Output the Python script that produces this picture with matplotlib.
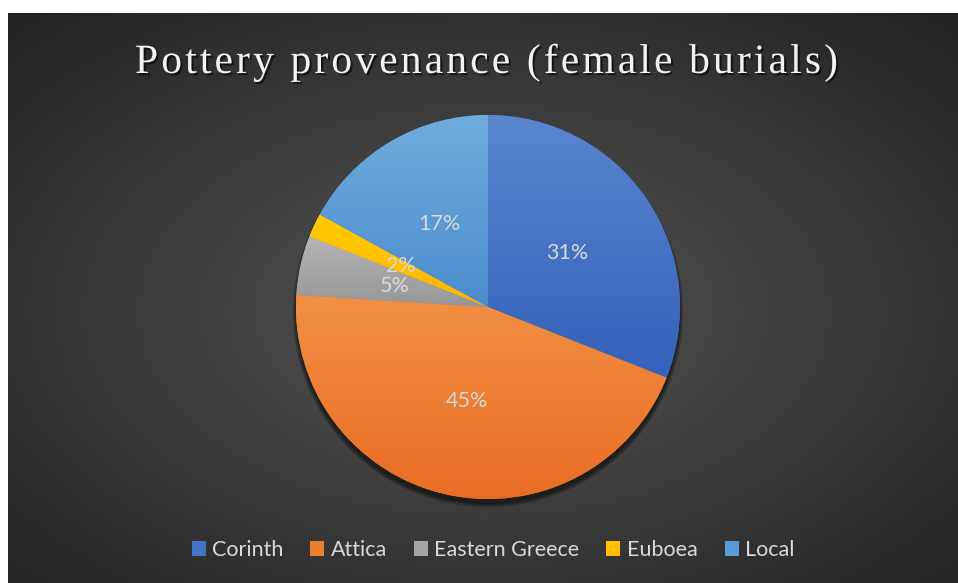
import numpy as np
import matplotlib
matplotlib.use("Agg")
import matplotlib.pyplot as plt
import matplotlib.patheffects as pe
from matplotlib.colors import to_rgb
from matplotlib.patches import Patch, Circle
from matplotlib.font_manager import FontProperties, findfont, get_font

# Pottery provenance shares (female burials), percent
labels = ["Corinth", "Attica", "Eastern Greece", "Euboea", "Local"]
shares = [31, 45, 5, 2, 17]
colors = ["#4472C4", "#ED7D31", "#A5A5A5", "#FFC000", "#5B9BD5"]

TITLE = "Pottery provenance (female burials)"
TEXT_COLOR = "#D9D9D9"

W, H = 958, 583
fig = plt.figure(figsize=(W / 100, H / 100), dpi=100)
fig.patch.set_facecolor("white")

# --- dark radial background, leaving a thin white strip top/left ---
left, top = 8 / W, 13 / H
bg_ax = fig.add_axes([left, 0, 1 - left, 1 - top])
bg_ax.set_axis_off()
yy, xx = np.mgrid[0:300, 0:500]
cx, cy = 0.50 * 500, 0.52 * 300
r = np.sqrt(((xx - cx) / 500) ** 2 + ((yy - cy) / 300) ** 2) / 0.72
r = np.clip(r, 0, 1)
inner, outer = np.array(to_rgb("#555555")), np.array(to_rgb("#222222"))
bg = inner[None, None, :] * (1 - r[..., None]) + outer[None, None, :] * r[..., None]
bg_ax.imshow(bg, extent=[0, 1, 0, 1], aspect="auto", interpolation="bilinear")
bg_ax.set_xlim(0, 1)
bg_ax.set_ylim(0, 1)

# --- pie ---
R_PX = 192
ax = fig.add_axes([(488 - R_PX) / W, (H - 307 - R_PX) / H, 2 * R_PX / W, 2 * R_PX / H])
ax.set_facecolor("none")

# soft drop shadow under the disc (shows mainly along the lower rim)
for k in range(7):
    ax.add_patch(Circle((0, -0.025), 1.0 + 0.003 * k, facecolor="black",
                        edgecolor="none", alpha=0.09, zorder=0))

wedges, texts, autotexts = ax.pie(
    shares, colors=colors, startangle=90, counterclock=False,
    autopct="%d%%", pctdistance=0.5, radius=1.0,
    wedgeprops=dict(linewidth=0),
    textprops=dict(color=TEXT_COLOR, fontsize=15.5, family="Lato"),
)

# vertical gradient inside each wedge: lighter on top, deeper at the bottom
ramp = np.linspace(0, 1, 256)[:, None]
for w, c in zip(wedges, colors):
    base = np.array(to_rgb(c))
    light = base ** 0.8
    dark = base ** 1.2
    grad = light[None, None, :] * (1 - ramp[..., None]) + dark[None, None, :] * ramp[..., None]
    grad = np.repeat(grad, 2, axis=1)
    bb = w.get_path().get_extents(w.get_patch_transform())
    im = ax.imshow(grad, extent=[bb.x0, bb.x1, bb.y0, bb.y1],
                   aspect="auto", interpolation="bilinear", zorder=w.get_zorder())
    im.set_clip_path(w)
ax.set_xlim(-1.05, 1.05)
ax.set_ylim(-1.05, 1.05)
ax.set_position([(488 - R_PX * 1.05) / W, (H - 307 - R_PX * 1.05) / H,
                 2.1 * R_PX / W, 2.1 * R_PX / H])
for t in autotexts:
    t.set_zorder(5)

# --- title: spaced-out serif letters with soft drop shadow ---
title_size = 30
font = get_font(findfont(FontProperties(family="Liberation Serif")))
font.set_size(title_size, 100)
advances = [font.load_char(ord(ch)).linearHoriAdvance / 65536 for ch in TITLE]
span = 703
gap = (span - sum(advances)) / (len(TITLE) - 1)
x = 486.5 - span / 2
shadow = [pe.withSimplePatchShadow(offset=(1.5, -1.5), shadow_rgbFace="black", alpha=0.6)]
for ch, adv in zip(TITLE, advances):
    if ch != " ":
        fig.text(x / W, 1 - 73 / H, ch, ha="left", va="baseline",
                 fontsize=title_size, family="Liberation Serif", color="#F2F2F2",
                 path_effects=shadow)
    x += adv + gap

# --- legend ---
handles = [Patch(facecolor=c, edgecolor="none") for c in colors]
fig.legend(handles, labels, loc="center", bbox_to_anchor=(493 / W, 1 - 550 / H),
           ncol=5, frameon=False, handlelength=0.65, handleheight=0.65,
           handletextpad=0.3, columnspacing=1.25,
           prop=dict(family="Lato", size=15.5), labelcolor=TEXT_COLOR)

fig.savefig("out.png", dpi=100)
